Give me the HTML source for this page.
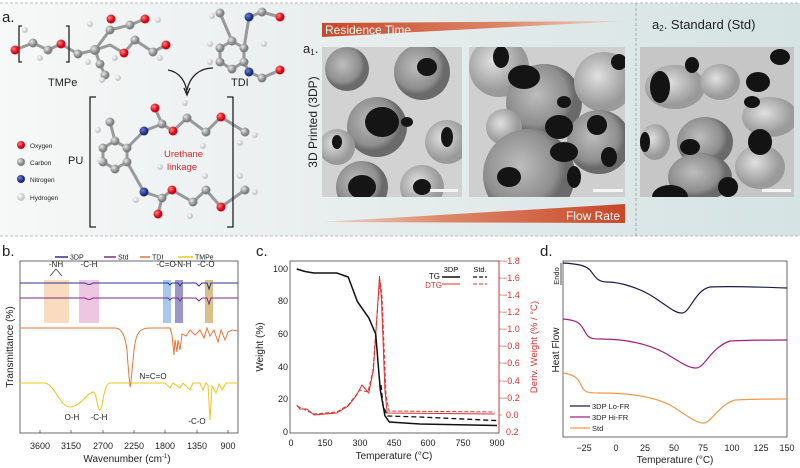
<!DOCTYPE html>
<html><head><meta charset="utf-8"><style>
html,body{margin:0;padding:0;background:#fff;}
svg{display:block;font-family:"Liberation Sans",sans-serif;}
</style></head><body>
<svg width="800" height="468" viewBox="0 0 800 468" xmlns="http://www.w3.org/2000/svg">
<defs>
<linearGradient id="bgA" x1="0" x2="1" y1="0" y2="0">
<stop offset="0" stop-color="#f7f8f8"/><stop offset="0.4" stop-color="#e9eeee"/><stop offset="1" stop-color="#d5e3e3"/></linearGradient>
<linearGradient id="wedge1" x1="0" x2="1"><stop offset="0" stop-color="#c8472a"/><stop offset="0.6" stop-color="#dc8868"/><stop offset="1" stop-color="#ecd8d0"/></linearGradient>
<linearGradient id="wedge2" x1="1" x2="0"><stop offset="0" stop-color="#c8472a"/><stop offset="0.6" stop-color="#dc8868"/><stop offset="1" stop-color="#ecd8d0"/></linearGradient>
<radialGradient id="gO" cx="0.35" cy="0.35"><stop offset="0" stop-color="#ff8080"/><stop offset="1" stop-color="#d00010"/></radialGradient>
<radialGradient id="gC" cx="0.35" cy="0.35"><stop offset="0" stop-color="#e8e8e8"/><stop offset="1" stop-color="#808080"/></radialGradient>
<radialGradient id="gN" cx="0.35" cy="0.35"><stop offset="0" stop-color="#7080d0"/><stop offset="1" stop-color="#1a2a80"/></radialGradient>
<radialGradient id="gH" cx="0.35" cy="0.35"><stop offset="0" stop-color="#ffffff"/><stop offset="1" stop-color="#c8c8c8"/></radialGradient>
<radialGradient id="sph" cx="0.4" cy="0.4"><stop offset="0" stop-color="#bdbdbd"/><stop offset="0.8" stop-color="#8e8e8e"/><stop offset="1" stop-color="#6a6a6a"/></radialGradient>
<radialGradient id="sph2" cx="0.4" cy="0.4"><stop offset="0" stop-color="#e0e0e0"/><stop offset="1" stop-color="#9a9a9a"/></radialGradient>
</defs>

<rect x="0" y="3" width="800" height="233" fill="url(#bgA)"/>
<line x1="0" y1="3" x2="800" y2="3" stroke="#bbb" stroke-dasharray="3,2"/>
<line x1="0" y1="236" x2="800" y2="236" stroke="#bbb" stroke-dasharray="3,2"/>
<line x1="636" y1="3" x2="636" y2="236" stroke="#aaa" stroke-dasharray="3,2"/>
<text x="2" y="22" font-size="15" fill="#222">a.</text>

<g stroke="#999" stroke-width="3" fill="none">
<polyline points="15,50 33,43 48,50 61,44 78,54 95,50 110,45 124,53 135,40 153,52 166,45"/>
<polyline points="95,50 100,64 105,75"/><polyline points="95,50 110,30 130,25 145,19"/>
<polygon points="232,41 244,48 244,62 232,69 220,62 220,48"/>
<polyline points="232,41 220,13"/><polyline points="244,48 249,17 262,12 280,17"/><polyline points="244,62 249,72 262,78 280,70"/>
<polygon points="115,141 127,148 127,162 115,169 103,162 103,148"/>
<polyline points="115,141 110,122"/><polyline points="127,148 144,131 162,124 173,131 187,118 206,132 221,117 245,132"/><polyline points="162,124 155,108"/>
<polyline points="127,162 144,192 162,198 172,190 193,202 206,190 221,207 245,190"/><polyline points="162,198 158,214"/>
</g>
<g stroke="#222" stroke-width="1.3" fill="none">
<path d="M168,70 C180,72 186,82 187,93"/><path d="M213,68 C200,68 190,76 187,90"/>
<path d="M184,88 L187,95 L190,88"/>
<path d="M96,97 H90 V227 H96"/><path d="M227,97 H233 V227 H227"/>
<path d="M22,26 H19 V62 H22"/><path d="M66,26 H69 V62 H66"/>
</g>
<g>
<circle cx="15" cy="50" r="4.5" fill="url(#gO)"/><circle cx="61" cy="44" r="4.5" fill="url(#gO)"/><circle cx="124" cy="53" r="4.5" fill="url(#gO)"/><circle cx="145" cy="19" r="4.5" fill="url(#gO)"/><circle cx="166" cy="45" r="4.5" fill="url(#gO)"/><circle cx="111" cy="19" r="4.5" fill="url(#gO)"/>
<g fill="url(#gC)"><circle cx="33" cy="43" r="4.5"/><circle cx="48" cy="50" r="4.5"/><circle cx="78" cy="54" r="4.5"/><circle cx="95" cy="50" r="5"/><circle cx="100" cy="64" r="4.5"/><circle cx="110" cy="30" r="4.5"/><circle cx="130" cy="25" r="4.5"/><circle cx="135" cy="40" r="4.5"/><circle cx="153" cy="52" r="4.5"/><circle cx="105" cy="75" r="4.5"/>
<circle cx="232" cy="41" r="4.5"/><circle cx="244" cy="48" r="4.5"/><circle cx="244" cy="62" r="4.5"/><circle cx="232" cy="69" r="4.5"/><circle cx="220" cy="62" r="4.5"/><circle cx="220" cy="48" r="4.5"/><circle cx="220" cy="13" r="4.5"/><circle cx="262" cy="12" r="4.5"/><circle cx="262" cy="78" r="4.5"/>
<circle cx="115" cy="141" r="4.5"/><circle cx="127" cy="148" r="4.5"/><circle cx="127" cy="162" r="4.5"/><circle cx="115" cy="169" r="4.5"/><circle cx="103" cy="162" r="4.5"/><circle cx="103" cy="148" r="4.5"/><circle cx="110" cy="122" r="4.5"/><circle cx="162" cy="124" r="4.5"/><circle cx="187" cy="118" r="4.5"/><circle cx="206" cy="132" r="4.5"/><circle cx="245" cy="132" r="4.5"/><circle cx="162" cy="198" r="4.5"/><circle cx="193" cy="202" r="4.5"/><circle cx="206" cy="190" r="4.5"/><circle cx="245" cy="190" r="4.5"/></g>
<g fill="url(#gO)"><circle cx="280" cy="17" r="4.5"/><circle cx="280" cy="70" r="4.5"/><circle cx="155" cy="108" r="4.5"/><circle cx="173" cy="131" r="4.5"/><circle cx="172" cy="190" r="4.5"/><circle cx="158" cy="214" r="4.5"/><circle cx="221" cy="117" r="4.5"/><circle cx="221" cy="207" r="4.5"/></g>
<g fill="url(#gN)"><circle cx="249" cy="17" r="4.5"/><circle cx="249" cy="72" r="4.5"/><circle cx="144" cy="131" r="4.5"/><circle cx="144" cy="192" r="4.5"/></g>
<g fill="url(#gH)"><circle cx="25" cy="30" r="3"/><circle cx="40" cy="58" r="3"/><circle cx="88" cy="62" r="3"/><circle cx="115" cy="58" r="3"/><circle cx="102" cy="80" r="3"/><circle cx="118" cy="78" r="3"/><circle cx="90" cy="24" r="3"/><circle cx="158" cy="20" r="3"/><circle cx="160" cy="58" r="3"/><circle cx="212" cy="16" r="3"/><circle cx="210" cy="62" r="3"/><circle cx="210" cy="44" r="3"/><circle cx="264" cy="44" r="3"/><circle cx="100" cy="160" r="3"/><circle cx="98" cy="130" r="3"/><circle cx="160" cy="167" r="3"/><circle cx="185" cy="103" r="3"/><circle cx="203" cy="146" r="3"/><circle cx="255" cy="135" r="3"/><circle cx="240" cy="143" r="3"/><circle cx="136" cy="200" r="3"/><circle cx="190" cy="216" r="3"/><circle cx="205" cy="176" r="3"/><circle cx="255" cy="192" r="3"/><circle cx="240" cy="176" r="3"/></g>
</g>
<text x="48" y="86" font-size="11" fill="#222">TMPe</text>
<text x="231" y="86" font-size="11" fill="#222">TDI</text>
<text x="68" y="164" font-size="11" fill="#222">PU</text>
<text x="164" y="157" font-size="9.5" fill="#d92b2b">Urethane</text>
<text x="167" y="170" font-size="9.5" fill="#d92b2b">linkage</text>
<circle cx="21" cy="145" r="4" fill="url(#gO)"/><text x="30" y="148" font-size="6.5" fill="#222">Oxygen</text>
<circle cx="21" cy="162" r="4" fill="url(#gC)"/><text x="30" y="165" font-size="6.5" fill="#222">Carbon</text>
<circle cx="21" cy="179" r="4" fill="url(#gN)"/><text x="30" y="182" font-size="6.5" fill="#222">Nitrogen</text>
<circle cx="21" cy="197" r="4" fill="url(#gH)"/><text x="30" y="200" font-size="6.5" fill="#222">Hydrogen</text>

<polygon points="322,23 625,21 322,37" fill="url(#wedge1)"/>
<text x="325" y="34" font-size="12" fill="#fff">Residence Time</text>
<polygon points="322,222 625,204 625,223" fill="url(#wedge2)"/>
<text x="620" y="220" font-size="12" fill="#fff" text-anchor="end">Flow Rate</text>
<text x="303" y="53" font-size="13" fill="#222">a<tspan font-size="8" dy="2">1</tspan><tspan dy="-2">.</tspan></text>
<text transform="translate(317,122) rotate(-90)" font-size="12" fill="#222" text-anchor="middle">3D Printed (3DP)</text>
<text x="652" y="29" font-size="13" fill="#222">a<tspan font-size="8" dy="2">2</tspan><tspan dy="-2">.</tspan>   Standard (Std)</text>

<!-- SEM 1 -->
<svg x="322" y="47" width="140" height="150">
<rect width="140" height="150" fill="#d2d2d2"/>
<circle cx="25" cy="22" r="22" fill="url(#sph)"/><circle cx="100" cy="25" r="28" fill="url(#sph)"/><circle cx="55" cy="80" r="30" fill="url(#sph)"/><circle cx="125" cy="95" r="22" fill="url(#sph2)"/><circle cx="15" cy="100" r="18" fill="url(#sph2)"/><circle cx="40" cy="140" r="26" fill="url(#sph)"/><circle cx="100" cy="140" r="22" fill="url(#sph2)"/>
<g fill="#151515"><ellipse cx="60" cy="75" rx="17" ry="15"/><ellipse cx="105" cy="20" rx="10" ry="9"/><ellipse cx="40" cy="140" rx="14" ry="12"/><ellipse cx="125" cy="90" rx="6" ry="10"/><ellipse cx="15" cy="95" rx="5" ry="7"/><ellipse cx="100" cy="140" rx="9" ry="8"/><ellipse cx="85" cy="75" rx="6" ry="5"/></g>
<rect x="108" y="142" width="28" height="3" fill="#f5f5f5"/>
</svg>
<!-- SEM 2 -->
<svg x="469" y="47" width="156" height="150">
<rect width="156" height="150" fill="#cfcfcf"/>
<circle cx="30" cy="20" r="30" fill="url(#sph2)"/><circle cx="75" cy="55" r="38" fill="url(#sph)"/><circle cx="135" cy="35" r="30" fill="url(#sph2)"/><circle cx="130" cy="95" r="32" fill="url(#sph)"/><circle cx="35" cy="80" r="18" fill="url(#sph2)"/><circle cx="60" cy="128" r="46" fill="url(#sph)"/>
<g fill="#141414"><ellipse cx="32" cy="10" rx="8" ry="11"/><ellipse cx="55" cy="30" rx="16" ry="12"/><ellipse cx="95" cy="55" rx="7" ry="6"/><ellipse cx="90" cy="80" rx="14" ry="12"/><ellipse cx="128" cy="78" rx="10" ry="10"/><ellipse cx="140" cy="110" rx="8" ry="10"/><ellipse cx="40" cy="130" rx="12" ry="10"/><ellipse cx="95" cy="105" rx="14" ry="10"/><ellipse cx="105" cy="130" rx="7" ry="11"/><ellipse cx="150" cy="15" rx="8" ry="8"/></g>
<rect x="124" y="142" width="30" height="3" fill="#f5f5f5"/>
</svg>
<!-- SEM 3 -->
<svg x="640" y="47" width="154" height="150">
<rect width="154" height="150" fill="#c6c6c6"/>
<ellipse cx="35" cy="40" rx="30" ry="22" fill="url(#sph2)"/><ellipse cx="80" cy="35" rx="20" ry="18" fill="url(#sph2)"/><ellipse cx="65" cy="95" rx="28" ry="25" fill="url(#sph)"/><ellipse cx="130" cy="70" rx="28" ry="20" fill="url(#sph2)"/><ellipse cx="60" cy="130" rx="32" ry="24" fill="url(#sph)"/><ellipse cx="15" cy="95" rx="15" ry="18" fill="url(#sph2)"/><ellipse cx="120" cy="120" rx="25" ry="22" fill="url(#sph2)"/>
<g fill="#131313"><ellipse cx="20" cy="40" rx="10" ry="16"/><ellipse cx="52" cy="18" rx="7" ry="8"/><ellipse cx="118" cy="35" rx="12" ry="10"/><ellipse cx="112" cy="55" rx="8" ry="6"/><ellipse cx="120" cy="95" rx="12" ry="13"/><ellipse cx="50" cy="100" rx="10" ry="8"/><ellipse cx="5" cy="95" rx="5" ry="10"/><ellipse cx="30" cy="150" rx="18" ry="12"/><ellipse cx="88" cy="140" rx="10" ry="10"/><ellipse cx="140" cy="10" rx="10" ry="8"/></g>
<rect x="122" y="142" width="29" height="3" fill="#f5f5f5"/>
</svg>

<!-- Panel b -->
<text x="2" y="256" font-size="15" fill="#222">b.</text>
<g font-size="7" fill="#222">
<line x1="55" y1="257" x2="68" y2="257" stroke="#2e3192" stroke-width="1.5"/><text x="70" y="259.5">3DP</text>
<line x1="104" y1="257" x2="116" y2="257" stroke="#7b2a8a" stroke-width="1.5"/><text x="118" y="259.5">Std</text>
<line x1="140" y1="257" x2="150" y2="257" stroke="#e8743a" stroke-width="1.5"/><text x="152" y="259.5">TDI</text>
<line x1="178" y1="257" x2="193" y2="257" stroke="#f3c418" stroke-width="1.5"/><text x="195" y="259.5">TMPe</text>
</g>
<rect x="20" y="261" width="218" height="172" fill="none" stroke="#444" stroke-width="0.8"/>
<rect x="44" y="280" width="25" height="43" fill="#f9dcc0"/>
<rect x="79" y="280" width="20" height="43" fill="#efc6e2"/>
<rect x="163" y="280" width="8" height="43" fill="#a6c8ec"/>
<rect x="175" y="280" width="8" height="43" fill="#9a96cc"/>
<rect x="205" y="280" width="8" height="43" fill="#d8c088"/>
<g fill="none" stroke-width="1">
<path d="M20,283 L85,283 Q89,286 93,283 L168,283 L170,285 L172,283 L178,283 L180,286 L182,283 L196,283 L199,286 L202,283 L207,283 L209,289 L211,283 L238,283" stroke="#2e3192"/>
<path d="M20,298 L85,298 Q89,301 93,298 L168,298 L170,300 L172,298 L178,298 L180,301 L182,298 L196,298 L199,301 L202,298 L207,298 L209,304 L211,298 L238,298" stroke="#7b2a8a"/>
<path d="M20,328 L115,328 C122,328 125,336 127,350 C128,368 130,385 130,387 C131,385 132,370 134,350 C136,332 140,328 150,328 L170,328 L172,335 L174,355 L175,340 L177,352 L178,340 L180,350 L182,334 L186,336 L190,330 L195,335 L200,330 L204,338 L207,328 L210,336 L214,330 L218,342 L221,330 L225,340 L228,332 L232,330 L238,331" stroke="#e8743a"/>
<path d="M20,383 L45,383 C55,385 60,407 70,407 C80,407 88,392 93,392 C97,392 97,410 100,410 C103,410 103,384 110,383 L165,383 L170,388 L173,383 L180,388 L183,383 L190,390 L193,383 L200,383 L203,390 L206,383 L208,385 L210,420 L212,386 L216,393 L219,384 L222,390 L226,383 L238,383" stroke="#f3c418"/>
</g>
<g font-size="8" fill="#222" text-anchor="middle">
<text x="56" y="267">-NH</text><text x="89" y="267">-C-H</text><text x="166" y="267">-C=O</text><text x="183" y="267">-N-H</text><text x="206" y="267">-C-O</text>
<text x="153" y="379">N=C=O</text><text x="72" y="420">O-H</text><text x="99" y="420">-C-H</text><text x="197" y="424">-C-O</text>
</g>
<g stroke="#222" stroke-width="0.6"><line x1="56" y1="269" x2="50" y2="276"/><line x1="56" y1="269" x2="62" y2="276"/></g>
<g font-size="9" fill="#222" text-anchor="middle">
<text x="40" y="449">3600</text><text x="71" y="449">3150</text><text x="103" y="449">2700</text><text x="134" y="449">2250</text><text x="165" y="449">1800</text><text x="197" y="449">1350</text><text x="228" y="449">900</text>
<text x="127" y="462" font-size="10">Wavenumber (cm<tspan font-size="6" dy="-4">-1</tspan><tspan dy="4">)</tspan></text>
<text transform="translate(13,347) rotate(-90)" font-size="10">Transmittance (%)</text>
</g>
<g stroke="#444" stroke-width="0.7"><line x1="40" y1="433" x2="40" y2="430"/><line x1="71" y1="433" x2="71" y2="430"/><line x1="103" y1="433" x2="103" y2="430"/><line x1="134" y1="433" x2="134" y2="430"/><line x1="165" y1="433" x2="165" y2="430"/><line x1="197" y1="433" x2="197" y2="430"/><line x1="228" y1="433" x2="228" y2="430"/></g>

<!-- Panel c -->
<text x="256" y="256" font-size="15" fill="#222">c.</text>
<rect x="290" y="261" width="209" height="172" fill="none" stroke="#444" stroke-width="0.8"/>
<line x1="499" y1="261" x2="499" y2="433" stroke="#e03030" stroke-width="0.8"/>
<g font-size="9" fill="#222" text-anchor="end">
<text x="288" y="272">100</text><text x="288" y="304">80</text><text x="288" y="337">60</text><text x="288" y="370">40</text><text x="288" y="402">20</text><text x="288" y="435">0</text>
</g>
<g font-size="9" fill="#222" text-anchor="middle">
<text x="291" y="446">0</text><text x="325" y="446">150</text><text x="360" y="446">300</text><text x="394" y="446">450</text><text x="428" y="446">600</text><text x="463" y="446">750</text><text x="497" y="446">900</text>
<text x="394" y="459" font-size="10">Temperature (°C)</text>
<text transform="translate(263,347) rotate(-90)" font-size="10">Weight (%)</text>
</g>
<g font-size="9" fill="#e03030">
<text x="502" y="264">−1.8</text><text x="502" y="281">−1.6</text><text x="502" y="298">−1.4</text><text x="502" y="315">−1.2</text><text x="502" y="332">−1.0</text><text x="502" y="349">−0.8</text><text x="502" y="366">−0.6</text><text x="502" y="384">−0.4</text><text x="502" y="401">−0.2</text><text x="506" y="418">0.0</text><text x="506" y="435">0.2</text>
<text transform="translate(537,347) rotate(-90)" font-size="9.5" text-anchor="middle">Deriv. Weight (% / °C)</text>
</g>
<g stroke="#e03030" stroke-width="0.6"><line x1="499" y1="261" x2="502" y2="261"/><line x1="499" y1="278" x2="502" y2="278"/><line x1="499" y1="295" x2="502" y2="295"/><line x1="499" y1="312" x2="502" y2="312"/><line x1="499" y1="329" x2="502" y2="329"/><line x1="499" y1="346" x2="502" y2="346"/><line x1="499" y1="363" x2="502" y2="363"/><line x1="499" y1="381" x2="502" y2="381"/><line x1="499" y1="398" x2="502" y2="398"/><line x1="499" y1="415" x2="502" y2="415"/></g>
<path d="M296.7,405 L300,409 L307,409 L313.9,415 L336.8,413 L348.2,406 L356,396 L362,385 L368.8,393 L373.4,370 L378,300 L379.5,276 L381.5,300 L384.9,390 L387.2,413 L494.7,414" fill="none" stroke="#e03030" stroke-width="1"/>
<path d="M297,406 L313.9,414 L336.8,412 L348.2,405 L360,390 L368,392 L373,370 L378,302 L380,280 L382,296 L386,395 L389,411 L494.7,412" fill="none" stroke="#e03030" stroke-width="1" stroke-dasharray="4,2"/>
<path d="M296.7,269 L305,271.5 L313.9,273 L336.8,273 L348.2,277 L357.4,301.6 L368.8,317.9 L375.7,334 L380.3,390 L384.9,415.7 L389.4,422 L420,424 L497,425.5" fill="none" stroke="#111" stroke-width="1.5"/>
<path d="M381,385 L383,405 L387.2,416 L420,417 L497,420.6" fill="none" stroke="#111" stroke-width="1.3" stroke-dasharray="5,3"/>
<g font-size="8">
<text x="440" y="279" fill="#111" text-anchor="end">TG</text>
<text x="451" y="272" font-size="7.5" fill="#111" text-anchor="middle">3DP</text>
<line x1="442" y1="277" x2="460" y2="277" stroke="#111" stroke-width="1.5"/>
<text x="480" y="272" font-size="7.5" fill="#111" text-anchor="middle">Std.</text>
<line x1="473" y1="277" x2="487" y2="277" stroke="#111" stroke-width="1.3" stroke-dasharray="4,2"/>
<text x="442" y="288" fill="#e03030" text-anchor="end">DTG</text>
<line x1="442" y1="284" x2="460" y2="284" stroke="#e03030"/>
<line x1="473" y1="284" x2="487" y2="284" stroke="#e03030" stroke-dasharray="4,2"/>
</g>

<!-- Panel d -->
<text x="540" y="256" font-size="15" fill="#222">d.</text>
<rect x="563" y="261" width="224" height="176" fill="none" stroke="#444" stroke-width="0.8"/>
<path d="M563,263 C580,264 586,266 590,270 C596,278 598,282 607,282 C620,282 640,288 655,298 C670,308 675,313 682,313 C690,313 695,290 710,287 C730,286 760,287 787,288" fill="none" stroke="#1c1c4a" stroke-width="1.2"/>
<path d="M563,319 C575,320 580,322 584,330 C588,338 590,339 600,339 C630,339 650,345 665,353 C680,362 688,368 696,368 C705,368 710,348 730,341 C745,340 770,340 787,340" fill="none" stroke="#a0207a" stroke-width="1.2"/>
<path d="M563,373 C575,375 578,378 581,385 C584,392 586,393 600,393 C635,393 660,398 675,408 C690,418 697,423 703,423 C712,423 718,405 735,400 C750,399 770,399 787,399" fill="none" stroke="#f2994a" stroke-width="1.2"/>
<g font-size="7.5" fill="#222">
<line x1="570" y1="406" x2="590" y2="406" stroke="#1c1c4a" stroke-width="1.3"/><text x="592" y="409">3DP Lo-FR</text>
<line x1="570" y1="417" x2="590" y2="417" stroke="#a0207a" stroke-width="1.3"/><text x="592" y="420">3DP Hi-FR</text>
<line x1="570" y1="428" x2="590" y2="428" stroke="#f2994a" stroke-width="1.3"/><text x="592" y="431">Std</text>
</g>
<g font-size="9" fill="#222" text-anchor="middle">
<text x="584" y="451">−25</text><text x="616" y="451">0</text><text x="645" y="451">25</text><text x="674" y="451">50</text><text x="703" y="451">75</text><text x="732" y="451">100</text><text x="761" y="451">125</text><text x="787" y="451">150</text>
<text x="675" y="463" font-size="10">Temperature (°C)</text>
<text transform="translate(559,350) rotate(-90)" font-size="10">Heat Flow</text>
<text transform="translate(559,276) rotate(-90)" font-size="7.5">Endo</text>
</g>
<line x1="561" y1="263" x2="561" y2="285" stroke="#222" stroke-width="0.8"/>
</svg>
</body></html>
